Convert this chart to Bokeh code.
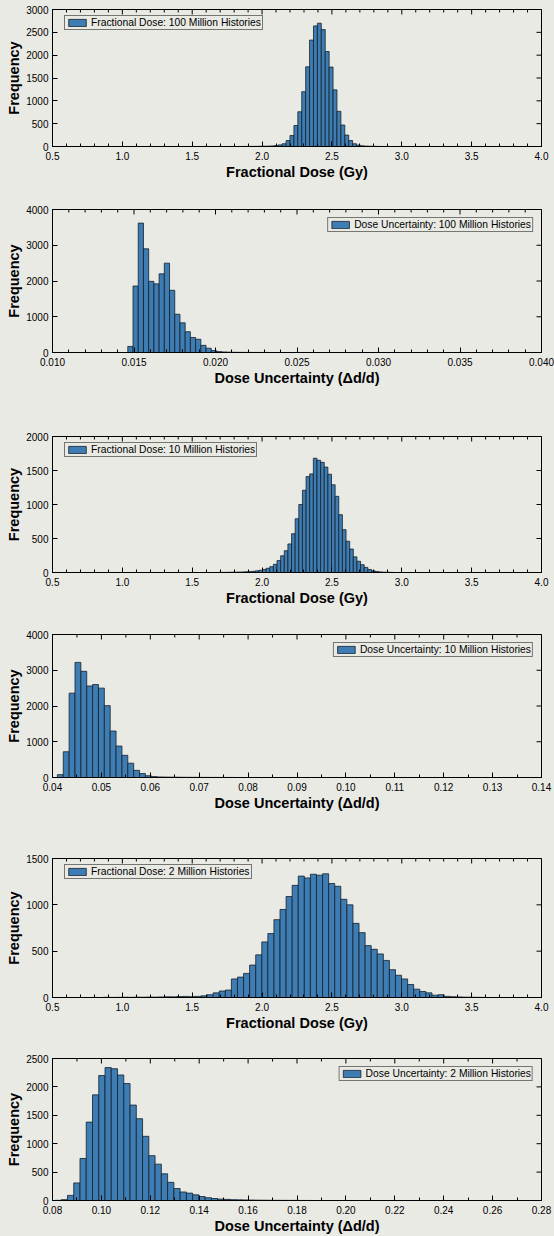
import numpy as np
from bokeh.plotting import figure
from bokeh.layouts import column
from bokeh.models import Range1d, FixedTicker, PrintfTickFormatter
from bokeh.embed import file_html
from bokeh.resources import INLINE

# ---------------- histogram data (counts per bin, first bin edge, bin width) ----------------
# Fractional dose, 100 million histories
dose100_counts = [2, 1, 3, 3, 5, 6, 8, 12, 20, 35, 60,
                  130, 240, 460, 760, 1200, 1745, 2330, 2640, 2700, 2560, 2080,
                  1740, 1240, 770, 470, 250, 130, 60, 30, 15, 8,
                  5, 3, 2, 1, 1]
dose100_start, dose100_width = 1.864, 0.028

# Dose uncertainty, 100 million histories
unc100_counts = [170, 1860, 3620, 2900, 1990, 1920, 2200, 2500, 1740, 1070,
                 830, 580, 420, 370, 200, 120, 55, 25, 15, 10, 6, 4, 3, 2, 2, 1, 1]
unc100_start, unc100_width = 0.01462, 0.00032

# Fractional dose, 10 million histories
dose10_counts = [2, 2, 3, 4, 5, 6, 8, 10, 13, 17, 24, 33, 45, 62, 85, 120, 175, 245,
                 320, 420, 570, 790, 1000, 1210, 1410, 1450,
                 1680, 1650, 1620, 1550, 1445, 1290, 1120, 850, 630, 460, 345, 230,
                 165, 115, 75, 45, 25, 15, 9, 5, 3, 2]
dose10_start, dose10_width = 1.691, 0.026

# Dose uncertainty, 10 million histories
unc10_counts = [80, 720, 2360, 3220, 2970, 2560, 2600, 2500, 2010, 1300, 880, 620,
                400, 200, 110, 50, 25, 15, 12, 10, 8, 6, 5, 4, 3, 3, 2, 2, 1, 1]
unc10_start, unc10_width = 0.0410, 0.0012

# Fractional dose, 2 million histories
dose2_counts = [1, 0, 2, 1, 2, 3, 2, 4, 3,
                5, 4, 6, 8, 7, 10, 12, 9,
                12, 18, 30, 50, 70, 80,
                200, 220, 260, 350, 460, 600, 690, 840, 950, 1090, 1210, 1310, 1290,
                1330, 1320, 1335, 1230, 1200, 1060, 1000, 800, 700, 560, 520, 470, 400,
                300, 240, 200, 140, 90, 65, 50, 25, 30, 12, 8, 6, 4, 3, 2, 1]
dose2_start, dose2_width = 0.78, 0.0435

# Dose uncertainty, 2 million histories
unc2_counts = [3, 15, 90, 310, 740, 1380, 1860, 2200, 2340, 2320, 2210, 2060, 1680,
               1440, 1130, 790, 640, 470, 320, 210, 150, 130, 100, 70, 50, 35, 25, 20,
               15, 12, 10, 8, 6, 5, 4, 3, 3, 2, 2, 1, 1]
unc2_start, unc2_width = 0.0810, 0.00256

# ---------------- tick labels ----------------
dose_ticks = [0.5, 1.0, 1.5, 2.0, 2.5, 3.0, 3.5, 4.0]
unc100_ticks = [0.010, 0.015, 0.020, 0.025, 0.030, 0.035, 0.040]
unc10_ticks = [0.04, 0.05, 0.06, 0.07, 0.08, 0.09, 0.10, 0.11, 0.12, 0.13, 0.14]
unc2_ticks = [0.08, 0.10, 0.12, 0.14, 0.16, 0.18, 0.20, 0.22, 0.24, 0.26, 0.28]
freq_ticks_3000 = [0, 500, 1000, 1500, 2000, 2500, 3000]
freq_ticks_4000 = [0, 1000, 2000, 3000, 4000]
freq_ticks_2000 = [0, 500, 1000, 1500, 2000]
freq_ticks_1500 = [0, 500, 1000, 1500]
freq_ticks_2500 = [0, 500, 1000, 1500, 2000, 2500]

DOSE_LABEL = "Fractional Dose (Gy)"
UNC_LABEL = "Dose Uncertainty (\u0394d/d)"

# ---------------- styling ----------------
BG = "#eaeae5"
BAR = "#3d7db3"
EDGE = "#15202a"
FONT = "Liberation Sans"
LEGEND_H = 14      # rendered legend box height, px
MAJOR_TICK = 5
MINOR_TICK = 3


def minor_between(ticks, n):
    """Minor tick positions splitting each major interval into n parts."""
    out = []
    for a, b in zip(ticks[:-1], ticks[1:]):
        out.extend(np.linspace(a, b, n + 1)[1:-1].tolist())
    return out


def style_axis(ax):
    ax.major_tick_in = MAJOR_TICK
    ax.major_tick_out = 0
    ax.minor_tick_in = MINOR_TICK
    ax.minor_tick_out = 0
    ax.axis_line_color = "black"
    ax.major_tick_line_color = "black"
    ax.minor_tick_line_color = "black"
    ax.major_label_text_font = FONT
    ax.major_label_text_font_size = "10px"
    ax.major_label_text_color = "black"
    ax.axis_label_text_font = FONT
    ax.axis_label_text_font_size = "14.5px"
    ax.axis_label_text_font_style = "bold"
    ax.axis_label_text_color = "black"
    ax.axis_label_standoff = 1


def hist_panel(counts, start, width, xr, xticks, nminor, xfmt, yticks, xlabel,
               legend, legend_side, height, top, bottom):
    frame_h = height - top - bottom
    p = figure(width=554, height=height, output_backend="svg", toolbar_location=None,
               x_range=Range1d(xr[0], xr[1]), y_range=Range1d(yticks[0], yticks[-1]),
               min_border_left=52, min_border_right=13,
               min_border_top=top, min_border_bottom=bottom,
               background_fill_color=BG, border_fill_color=BG,
               outline_line_color="black", outline_line_width=1)
    p.grid.visible = False

    edges = start + width * np.arange(len(counts) + 1)
    p.quad(left=edges[:-1], right=edges[1:], top=counts, bottom=0,
           fill_color=BAR, line_color=EDGE, line_width=0.8, legend_label=legend)

    xminor = minor_between(xticks, nminor)
    xa = p.xaxis[0]
    xa.ticker = FixedTicker(ticks=xticks, minor_ticks=xminor)
    xa.formatter = PrintfTickFormatter(format=xfmt)
    xa.axis_label = xlabel
    style_axis(xa)
    xa.major_label_standoff = 5

    ya = p.yaxis[0]
    ya.ticker = FixedTicker(ticks=yticks, minor_ticks=[])
    ya.formatter = PrintfTickFormatter(format="%d")
    ya.axis_label = "Frequency"
    style_axis(ya)
    ya.major_label_standoff = 4

    # mirrored inward ticks on the top and right edges of the box (clipped to the frame)
    ytop, xright = yticks[-1], xr[1]
    p.scatter(x=xticks, y=[ytop] * len(xticks), marker="dash", angle=np.pi / 2,
              size=2 * MAJOR_TICK, line_color="black", line_width=1)
    p.scatter(x=xminor, y=[ytop] * len(xminor), marker="dash", angle=np.pi / 2,
              size=2 * MINOR_TICK, line_color="black", line_width=1)
    p.scatter(x=[xright] * len(yticks), y=yticks, marker="dash", angle=0,
              size=2 * MAJOR_TICK, line_color="black", line_width=1)

    lg = p.legend[0]
    if legend_side == "left":
        lg.location = (12, frame_h - 7 - LEGEND_H)
    else:
        lg.location = "top_right"
    lg.margin = 8
    lg.padding = 1
    lg.spacing = 0
    lg.glyph_width = 22
    lg.glyph_height = 9
    lg.label_height = 10
    lg.label_standoff = 3
    lg.label_text_font = FONT
    lg.label_text_font_size = "10.3px"
    lg.label_text_color = "black"
    lg.border_line_color = "black"
    lg.border_line_width = 1
    lg.background_fill_color = BG
    lg.background_fill_alpha = 1.0
    return p


p1 = hist_panel(dose100_counts, dose100_start, dose100_width, (0.5, 4.0), dose_ticks, 5, "%.1f",
                freq_ticks_3000, DOSE_LABEL, "Fractional Dose: 100 Million Histories", "left",
                190, 9, 44)
p2 = hist_panel(unc100_counts, unc100_start, unc100_width, (0.010, 0.040), unc100_ticks, 5, "%.3f",
                freq_ticks_4000, UNC_LABEL, "Dose Uncertainty: 100 Million Histories", "right",
                215, 19, 53)
p3 = hist_panel(dose10_counts, dose10_start, dose10_width, (0.5, 4.0), dose_ticks, 5, "%.1f",
                freq_ticks_2000, DOSE_LABEL, "Fractional Dose: 10 Million Histories", "left",
                207, 31, 40)
p4 = hist_panel(unc10_counts, unc10_start, unc10_width, (0.04, 0.14), unc10_ticks, 2, "%.2f",
                freq_ticks_4000, UNC_LABEL, "Dose Uncertainty: 10 Million Histories", "right",
                208, 22, 43)
p5 = hist_panel(dose2_counts, dose2_start, dose2_width, (0.5, 4.0), dose_ticks, 5, "%.1f",
                freq_ticks_1500, DOSE_LABEL, "Fractional Dose: 2 Million Histories", "left",
                217, 38, 40)
p6 = hist_panel(unc2_counts, unc2_start, unc2_width, (0.08, 0.28), unc2_ticks, 2, "%.2f",
                freq_ticks_2500, UNC_LABEL, "Dose Uncertainty: 2 Million Histories", "right",
                199, 21, 32)

layout = column(p1, p2, p3, p4, p5, p6, spacing=0, styles={"background-color": BG})
open("out.html", "w").write(file_html(layout, INLINE))
